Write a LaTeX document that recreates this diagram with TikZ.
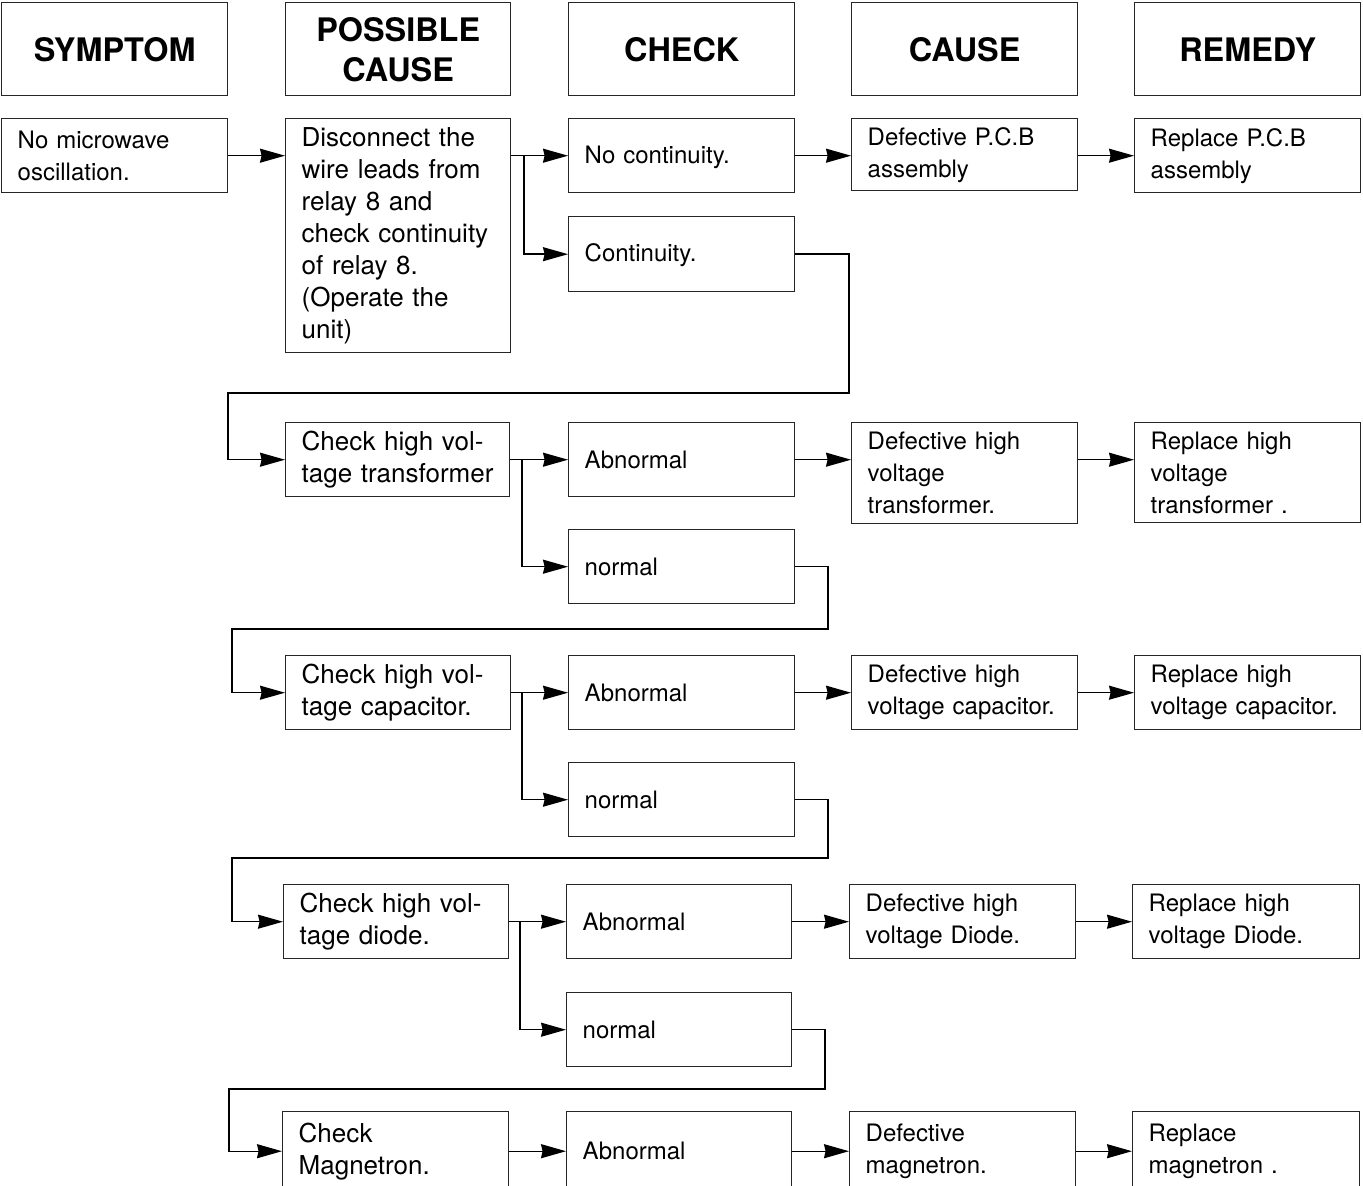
\documentclass[tikz,border=0pt]{standalone}
\usepackage{fontspec}
\setmainfont{TeX Gyre Heros}
\usetikzlibrary{arrows.meta,calc}
\tikzset{
  wh/.code 2 args={%
    \pgfmathsetmacro\bw{#1*0.5}\pgfmathsetmacro\bh{#2*0.5}\pgfmathsetmacro\tw{#1*0.5-16}%
    \edef\tmpkeys{\noexpand\pgfkeysalso{minimum width=\bw pt, minimum height=\bh pt, text width=\tw pt}}\tmpkeys},
  bx/.style={draw=black!85, line width=0.7pt, anchor=north west, inner xsep=8pt, inner ysep=0pt,
    align=left, font=\fontsize{12}{16}\selectfont},
  pcbx/.style={bx, font=\fontsize{13}{16}\selectfont},
  hdr/.style={bx, align=center, font=\fontsize{16.2}{20}\selectfont\bfseries},
  arr/.style={draw=black, line width=0.7pt, -{Stealth[length=12.5pt,width=7pt,inset=0.8pt]}},
}
\begin{document}
\begin{tikzpicture}[x=0.5pt,y=-0.5pt]
\useasboundingbox (0,0) rectangle (1363,1186);
% headers
\node[hdr, wh={226}{93}] (h1) at (1,2) {SYMPTOM};
\node[hdr, wh={225}{93}] (h2) at (285,2) {POSSIBLE\\CAUSE};
\node[hdr, wh={226}{93}] (h3) at (568,2) {CHECK};
\node[hdr, wh={226}{93}] (h4) at (851,2) {CAUSE};
\node[hdr, wh={226}{93}] (h5) at (1134,2) {REMEDY};
% row 1
\node[bx, wh={226}{74}] (sym) at (1,118) {No microwave\\oscillation.};
\node[pcbx, wh={225}{234}] (disc) at (285,118) {Disconnect the\\wire leads from\\relay 8 and\\check continuity\\of relay 8.\\(Operate the\\unit)};
\node[bx, wh={226}{74}] (nc) at (568,118) {\rule{0pt}{10pt}No continuity.};
\node[bx, wh={226}{72}] (dpcb) at (851,118) {Defective P.C.B\\assembly};
\node[bx, wh={226}{74}] (rpcb) at (1134,118) {Replace P.C.B\\assembly};
\node[bx, wh={226}{75}] (cont) at (568,216) {\rule{0pt}{10pt}Continuity.};
% row 2
\node[pcbx, wh={224}{74}] (c1) at (285,422) {Check high vol-\\tage transformer};
\node[bx, wh={226}{74}] (a1) at (568,422) {Abnormal};
\node[bx, wh={226}{101}] (d1) at (851,422) {Defective high\\voltage\\transformer.};
\node[bx, wh={226}{100}] (r1) at (1134,422) {Replace high\\voltage\\transformer .};
\node[bx, wh={226}{74}] (n1) at (568,529) {normal};
% row 3
\node[pcbx, wh={225}{74}] (c2) at (285,655) {Check high vol-\\tage capacitor.};
\node[bx, wh={226}{74}] (a2) at (568,655) {Abnormal};
\node[bx, wh={226}{74}] (d2) at (851,655) {Defective high\\voltage capacitor.};
\node[bx, wh={226}{74}] (r2) at (1134,655) {Replace high\\voltage capacitor.};
\node[bx, wh={226}{74}] (n2) at (568,762) {normal};
% row 4
\node[pcbx, wh={225}{74}] (c3) at (283,884) {Check high vol-\\tage diode.};
\node[bx, wh={225}{74}] (a3) at (566,884) {Abnormal};
\node[bx, wh={226}{74}] (d3) at (849,884) {Defective high\\voltage Diode.};
\node[bx, wh={227}{74}] (r3) at (1132,884) {Replace high\\voltage Diode.};
\node[bx, wh={225}{74}] (n3) at (566,992) {normal};
% row 5
\node[pcbx, wh={226}{79}] (c4) at (282,1111) {Check\\Magnetron.};
\node[bx, wh={225}{79}] (a4) at (566,1111) {Abnormal};
\node[bx, wh={226}{79}] (d4) at (849,1111) {Defective\\magnetron.};
\node[bx, wh={227}{79}] (r4) at (1132,1111) {Replace\\magnetron .};
% junction / routing coordinates
\coordinate (j0) at (524,0);
\coordinate (j1) at (522,0);
\coordinate (j2) at (522,0);
\coordinate (j3) at (520,0);
\coordinate (t1) at (849,393); \coordinate (l1) at (228,393);
\coordinate (t2) at (828,629); \coordinate (l2) at (232,629);
\coordinate (t3) at (828,858); \coordinate (l3) at (232,858);
\coordinate (t4) at (825,1089); \coordinate (l4) at (229,1089);
% row 1 connectors
\draw[arr] (sym.east) -- (sym.east -| disc.west);
\draw[arr] (disc.east |- nc.west) -- (nc.west);
\draw[arr] (j0 |- nc.west) |- (cont.west);
\draw[arr] (nc.east) -- (nc.east -| dpcb.west);
\draw[arr] (dpcb.east |- nc.east) -- (rpcb.west |- nc.east);
\draw[arr] (cont.east) -| (t1) -- (l1) |- (c1.west);
% row 2
\draw[arr] (c1.east) -- (c1.east -| a1.west);
\draw[arr] (j1 |- a1.west) |- (n1.west);
\draw[arr] (a1.east) -- (a1.east -| d1.west);
\draw[arr] (d1.east |- a1.east) -- (r1.west |- a1.east);
\draw[arr] (n1.east) -| (t2) -- (l2) |- (c2.west);
% row 3
\draw[arr] (c2.east) -- (c2.east -| a2.west);
\draw[arr] (j2 |- a2.west) |- (n2.west);
\draw[arr] (a2.east) -- (d2.west);
\draw[arr] (d2.east) -- (r2.west);
\draw[arr] (n2.east) -| (t3) -- (l3) |- (c3.west);
% row 4
\draw[arr] (c3.east) -- (c3.east -| a3.west);
\draw[arr] (j3 |- a3.west) |- (n3.west);
\draw[arr] (a3.east) -- (d3.west);
\draw[arr] (d3.east) -- (r3.west);
\draw[arr] (n3.east) -| (t4) -- (l4) |- (c4.west);
% row 5
\draw[arr] (c4.east) -- (a4.west);
\draw[arr] (a4.east) -- (d4.west);
\draw[arr] (d4.east) -- (r4.west);
\end{tikzpicture}
\end{document}
